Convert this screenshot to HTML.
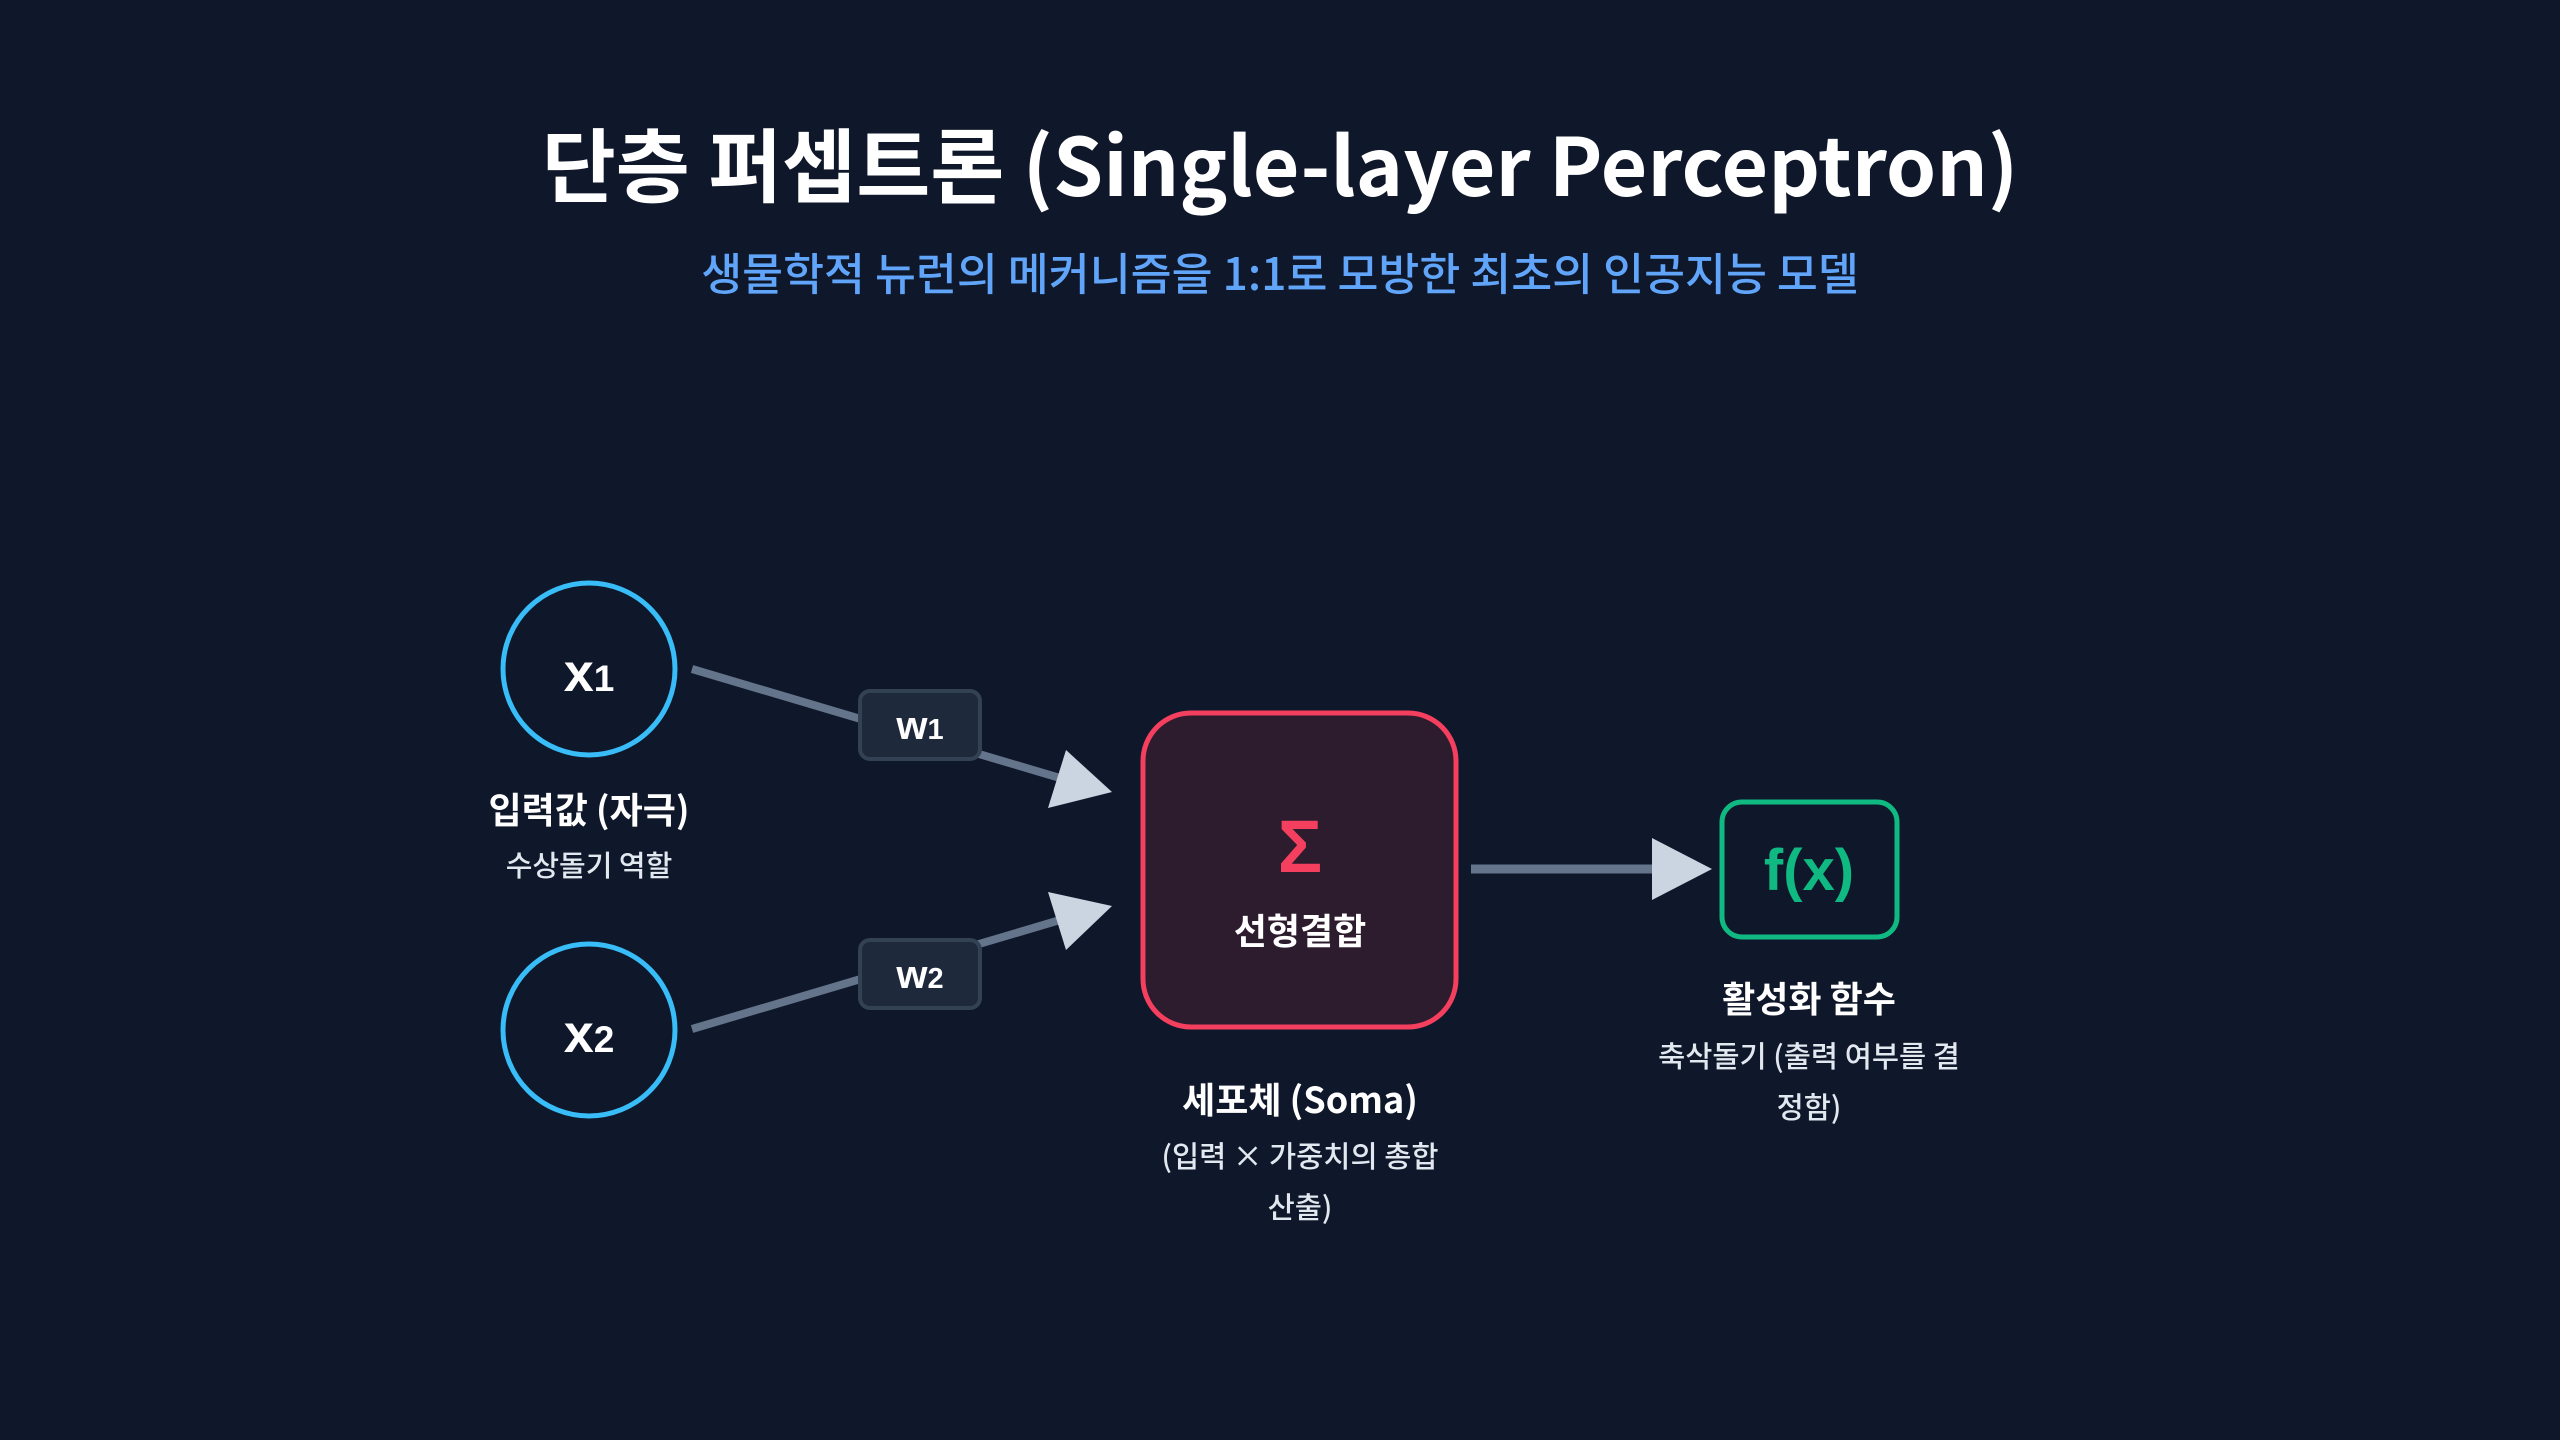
<!DOCTYPE html>
<html><head><meta charset="utf-8"><style>
html,body{margin:0;padding:0;background:#0f172a;}
svg{display:block}
text{font-family:"Liberation Sans","Noto Sans CJK KR",sans-serif;}
.k{font-family:"Noto Sans CJK KR","Liberation Sans",sans-serif;}
</style></head><body>
<svg width="2560" height="1440" viewBox="0 0 2560 1440" xmlns="http://www.w3.org/2000/svg">
<rect width="2560" height="1440" fill="#0f172a"/>
<text class="k" x="1280" y="196" text-anchor="middle" font-size="80.5" font-weight="700" fill="#ffffff">단층 퍼셉트론 (Single-layer Perceptron)</text>
<text class="k" x="1280" y="290" text-anchor="middle" font-size="44.5" font-weight="500" fill="#60a5fa">생물학적 뉴런의 메커니즘을 1:1로 모방한 최초의 인공지능 모델</text>

<line x1="692" y1="669" x2="1060" y2="778" stroke="#64748b" stroke-width="8"/>
<line x1="692" y1="1029" x2="1060" y2="920" stroke="#64748b" stroke-width="8"/>
<polygon points="1112,792 1048,808 1066,750" fill="#cbd5e1"/>
<polygon points="1112,906 1066,950 1048,892" fill="#cbd5e1"/>
<line x1="1471" y1="869" x2="1660" y2="869" stroke="#64748b" stroke-width="9"/>
<polygon points="1712,869 1652,838 1652,900" fill="#cbd5e1"/>

<circle cx="589" cy="669" r="86" fill="#0f172a" stroke="#38bdf8" stroke-width="5"/>
<circle cx="589" cy="1030" r="86" fill="#0f172a" stroke="#38bdf8" stroke-width="5"/>
<text x="589" y="691" text-anchor="middle" font-size="54" font-weight="700" fill="#fff">x<tspan font-size="37">1</tspan></text>
<text x="589" y="1052" text-anchor="middle" font-size="54" font-weight="700" fill="#fff">x<tspan font-size="37">2</tspan></text>
<text class="k" x="589" y="823" text-anchor="middle" font-size="36" font-weight="700" fill="#fff">입력값 (자극)</text>
<text class="k" x="589" y="876" text-anchor="middle" font-size="29" font-weight="500" fill="#e2e8f0">수상돌기 역할</text>

<rect x="860" y="691" width="120" height="68" rx="10" fill="#1e293b" stroke="#334155" stroke-width="4"/>
<rect x="860" y="940" width="120" height="68" rx="10" fill="#1e293b" stroke="#334155" stroke-width="4"/>
<text x="920" y="739" text-anchor="middle" font-size="40" font-weight="700" fill="#fff">w<tspan font-size="29">1</tspan></text>
<text x="920" y="988" text-anchor="middle" font-size="40" font-weight="700" fill="#fff">w<tspan font-size="29">2</tspan></text>

<rect x="1143" y="713" width="313" height="314" rx="48" fill="#2d1b2e" stroke="#f43f5e" stroke-width="5"/>
<text x="1300" y="872" text-anchor="middle" font-size="74" font-weight="700" fill="#f43f5e">Σ</text>
<text class="k" x="1300" y="944" text-anchor="middle" font-size="36" font-weight="700" fill="#fff">선형결합</text>
<text class="k" x="1300" y="1113" text-anchor="middle" font-size="36" font-weight="700" fill="#fff">세포체 (Soma)</text>
<text class="k" x="1300" y="1167" text-anchor="middle" font-size="29.5" font-weight="500" fill="#e2e8f0">(입력 × 가중치의 총합</text>
<text class="k" x="1300" y="1218" text-anchor="middle" font-size="29.5" font-weight="500" fill="#e2e8f0">산출)</text>

<rect x="1722" y="802" width="175" height="135" rx="20" fill="#0f172a" stroke="#10b981" stroke-width="5"/>
<text x="1809" y="890" text-anchor="middle" font-size="58" font-weight="700" fill="#10b981">f(x)</text>
<text class="k" x="1809" y="1012" text-anchor="middle" font-size="36" font-weight="700" fill="#fff">활성화 함수</text>
<text class="k" x="1809" y="1067" text-anchor="middle" font-size="29.5" font-weight="500" fill="#e2e8f0">축삭돌기 (출력 여부를 결</text>
<text class="k" x="1809" y="1118" text-anchor="middle" font-size="29.5" font-weight="500" fill="#e2e8f0">정함)</text>
</svg>
</body></html>
